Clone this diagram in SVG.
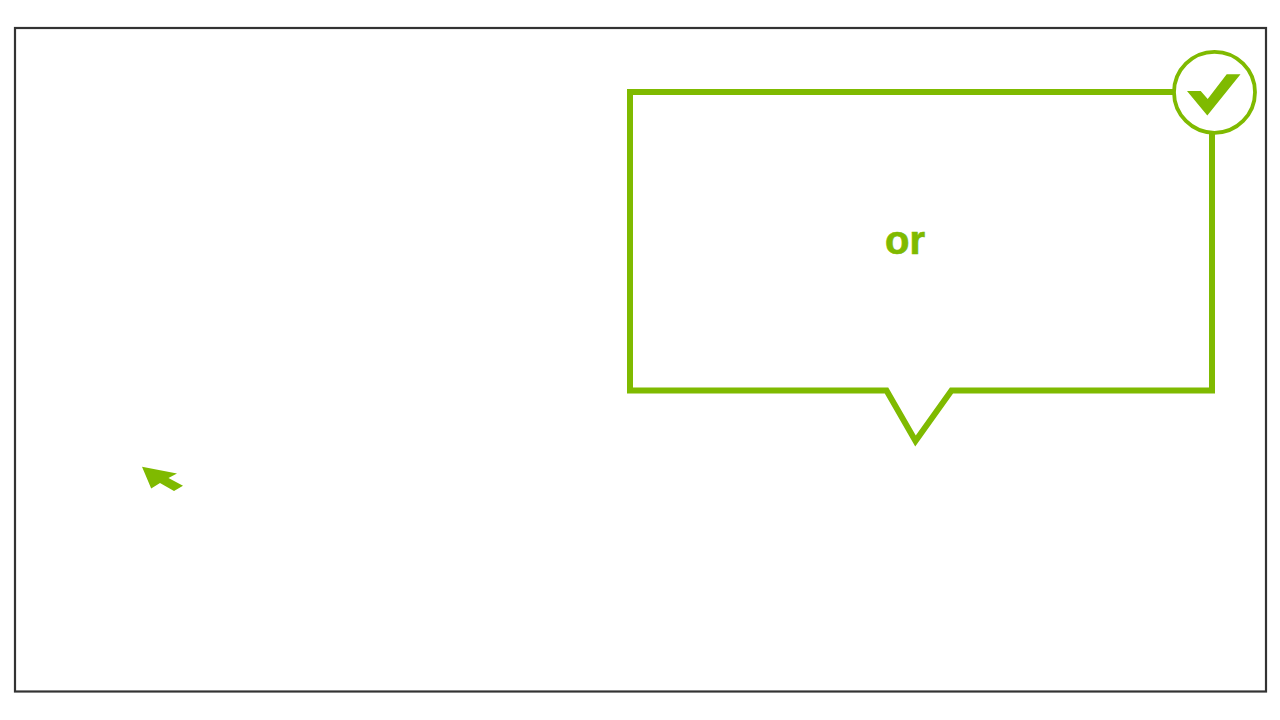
<svg xmlns="http://www.w3.org/2000/svg" width="1280" height="720" viewBox="0 0 1280 720">
<style>
.g{fill:#7fba00}
.o{fill:none;stroke:#7fba00}
text{font-family:"Liberation Sans",Arial,sans-serif;font-weight:700;font-size:40px}
</style>
<rect width="1280" height="720" fill="#fff"/>
<rect id="frame" x="15" y="28" width="1251" height="663.500" fill="none" stroke="#333" stroke-width="2.200"/>
<g id="callout">
<path class="o" stroke-width="6" stroke-miterlimit="10" d="M1212 92H630V390.500H886.500L915.500 441L951.500 390.500H1212V92"/>
<text class="g" x="905" y="254" text-anchor="middle" stroke="#7fba00" stroke-width="0.700">or</text>
</g>
<g id="check">
<circle cx="1214.500" cy="92.300" r="40.500" fill="#fff" stroke="#7fba00" stroke-width="3.800"/>
<path class="g" d="M1187 91H1200.700L1207.700 99L1226.700 74.300H1240.500L1207.300 115.500Z"/>
</g>
<g id="arrow">
<path class="g" d="M142 466.700L177 473.500L168.500 478L183 485.700L174 491L160 483L151.200 488.500Z"/>
</g>
</svg>
